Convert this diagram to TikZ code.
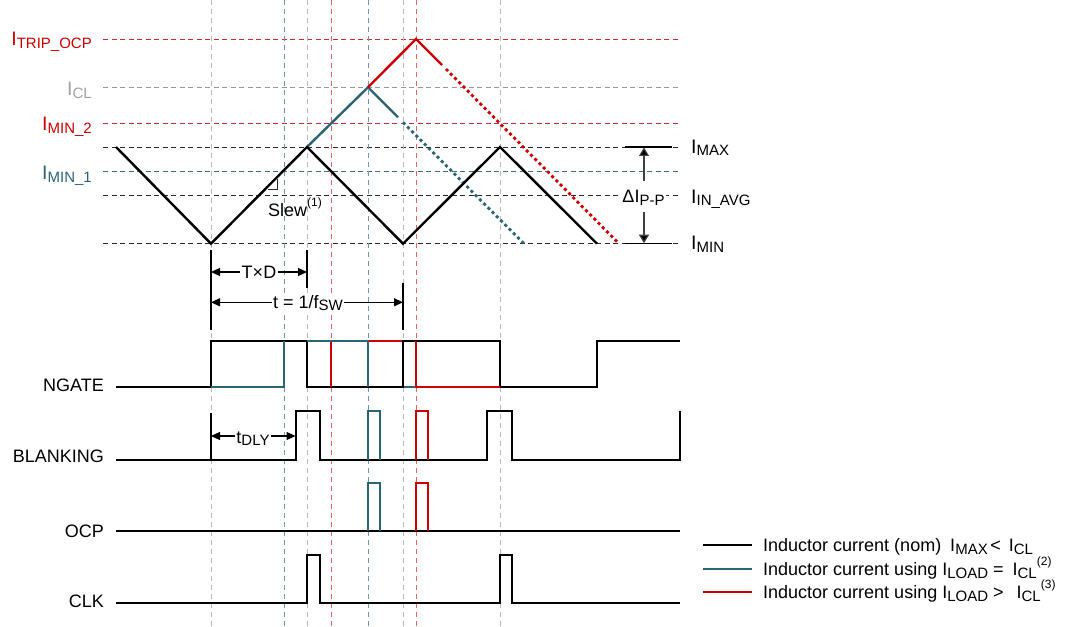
\documentclass[tikz,border=0pt]{standalone}
\usepackage{fontspec}
\setmainfont{Liberation Sans}
\usetikzlibrary{arrows.meta}
\definecolor{tired}{RGB}{204,0,0}
\definecolor{titeal}{RGB}{43,100,115}
\definecolor{vgray}{RGB}{185,185,185}
\definecolor{vteal}{RGB}{115,150,165}
\definecolor{vred}{RGB}{225,100,100}
\definecolor{hred}{RGB}{200,40,50}
\definecolor{hteal}{RGB}{60,110,125}
\definecolor{hgray}{RGB}{150,150,150}
\definecolor{hblack}{RGB}{40,40,40}
\definecolor{lblgray}{RGB}{160,160,160}
\newcommand{\sbs}[1]{\raisebox{-2.5bp}{\fontsize{15bp}{15bp}\selectfont #1}}
\newcommand{\sps}[1]{\raisebox{10bp}{\fontsize{12bp}{12bp}\selectfont #1}}
\newcommand{\bigf}{\fontsize{19.5bp}{22bp}\selectfont}
\newcommand{\normf}{\fontsize{18bp}{21bp}\selectfont}
\begin{document}
\begin{tikzpicture}[x=1bp,y=-1bp,font=\normf,
  hdash/.style={line width=0.9bp,dash pattern=on 5bp off 3.5bp},
  vdash/.style={line width=1bp,dash pattern=on 5bp off 4bp},
  wave/.style={line width=2.4bp},
  dotw/.style={line width=2.8bp,dash pattern=on 3bp off 3bp},
  sig/.style={line width=2bp},
  bar/.style={line width=1.5bp},
  dimarrow/.style={line width=1.2bp,{Triangle[length=9bp,width=8bp]}-{Triangle[length=9bp,width=8bp]}},
  dimlbl/.style={fill=white,inner sep=1.5bp},
  sigl/.style={anchor=base east,inner sep=0pt},
  ilbl/.style={font=\bigf,inner sep=0pt}]
\useasboundingbox (0,0) rectangle (1075,627);

% horizontal dashed reference levels
\foreach \yy/\cc in {39/hred,87.3/hgray,123.3/hred,147/hblack,171.7/hteal,195.3/hblack,243.7/hblack}
  \draw[hdash,\cc] (103,\yy) -- (680,\yy);
% vertical dashed time markers
\foreach \xx/\cc in {211/vgray,284/vteal,307/vgray,331/vred,368/vteal,403/vgray,416/vred,500/vgray}
  \draw[vdash,\cc] (\xx,0) -- (\xx,627);

% inductor currents
\draw[wave,titeal] (307,147) -- (368,87.3) -- (398,117.3);
\draw[wave,tired] (368,87.3) -- (416,39) -- (442,65);
\draw[dotw,titeal] (403,122.3) -- (524,243.7);
\draw[dotw,tired] (446,69) -- (619,243.7);
\draw[wave] (116,147) -- (211,243.7) -- (307,147) -- (403,243.7) -- (500,147) -- (597,243.7);

% slew marker
\draw[line width=0.8bp,hblack] (268,189) -- (277.7,189) -- (277.7,179.5);
\node[anchor=base west,inner sep=0pt] (slew) at (268,217) {Slew\sps{(1)}};

% level labels
\node[ilbl,anchor=base east,text=tired] (itrip) at (92,46) {I\sbs{TRIP\_OCP}};
\node[ilbl,anchor=base east,text=lblgray] (icl) at (92,96) {I\sbs{CL}};
\node[ilbl,anchor=base east,text=tired] (imin2) at (92,131) {I\sbs{MIN\_2}};
\node[ilbl,anchor=base east,text=titeal] (imin1) at (92,180) {I\sbs{MIN\_1}};
\node[ilbl,anchor=base west] (imax) at (691,153.3) {I\sbs{MAX}};
\node[ilbl,anchor=base west] (iavg) at (691,203.3) {I\sbs{IN\_AVG}};
\node[ilbl,anchor=base west] (imin) at (691,250) {I\sbs{MIN}};

% delta I
\draw[line width=1.3bp] (625,147) -- (672,147);
\draw[line width=1.3bp] (625,243.7) -- (672,243.7);
\node[fill=white,inner sep=1bp,anchor=base] (dI) at (643.5,203) {ΔI\sbs{P-P}};
\coordinate (dIt) at (644,181);
\coordinate (dIb) at (644,212);
\coordinate (dImax) at (644,147.5);
\coordinate (dImin) at (644,243.2);
\draw[line width=1.2bp,black!75,-{Triangle[length=8.5bp,width=10bp,fill=black]}] (dIt) -- (dImax);
\draw[line width=1.2bp,black!75,-{Triangle[length=8.5bp,width=10bp,fill=black]}] (dIb) -- (dImin);

% timing dimension bars
\draw[bar] (211,250) -- (211,330);
\draw[bar] (307,250) -- (307,288);
\draw[bar] (403,283) -- (403,330);
\draw[bar] (211,413) -- (211,460);

\coordinate (tdA) at (211,272);
\coordinate (tdB) at (307,272);
\draw[dimarrow] (tdA) -- (tdB);
\node[dimlbl] (tdl) at (259,272) {T×D};

\coordinate (tsA) at (211,302.3);
\coordinate (tsB) at (403,302.3);
\draw[dimarrow] (tsA) -- (tsB);
\node[dimlbl,anchor=base] (tsl) at (308,308.5) {t = 1/f\sbs{SW}};

\coordinate (tyA) at (211,436);
\coordinate (tyB) at (295.5,436);
\draw[dimarrow] (tyA) -- (tyB);
\node[dimlbl,anchor=base] (tyl) at (253,443) {t\sbs{DLY}};

% NGATE
\node[sigl] (ngate) at (104,391) {NGATE};
\draw[sig] (116,387) -- (211,387) -- (211,341) -- (307,341) -- (307,387) -- (403,387) -- (403,341) -- (500,341) -- (500,387) -- (597,387) -- (597,341) -- (680,341);
\draw[sig,titeal] (211,387) -- (284,387) -- (284,341);
\draw[sig,tired] (331,387) -- (331,341);
\draw[sig,titeal] (307,341) -- (368,341) -- (368,387);
\draw[sig,titeal] (404,387) -- (416,387);
\draw[sig,tired] (369,341) -- (402,341);
\draw[sig,tired] (416,341) -- (416,387) -- (500,387);

% BLANKING
\node[sigl] (blank) at (104,462) {BLANKING};
\draw[sig] (116,460) -- (296,460) -- (296,411) -- (320,411) -- (320,460) -- (487,460) -- (487,411) -- (512,411) -- (512,460) -- (680,460) -- (680,411);
\draw[sig,titeal] (368,460) -- (368,411) -- (380,411) -- (380,460);
\draw[sig,tired] (416,460) -- (416,411) -- (428,411) -- (428,460);

% OCP
\node[sigl] (ocp) at (104,537) {OCP};
\draw[sig] (116,531) -- (680,531);
\draw[sig,titeal] (368,531) -- (368,483) -- (380,483) -- (380,531);
\draw[sig,tired] (416,531) -- (416,483) -- (428,483) -- (428,531);

% CLK
\node[sigl] (clk) at (104,607) {CLK};
\draw[sig] (116,603) -- (307,603) -- (307,555) -- (320,555) -- (320,603) -- (500,603) -- (500,555) -- (512,555) -- (512,603) -- (680,603);

% legend
\draw[sig] (703,545) -- (752,545);
\draw[sig,titeal] (703,569) -- (752,569);
\draw[sig,tired] (703,592) -- (752,592);
\node[anchor=base west,inner sep=0pt] (lg1) at (763,551.5) {Inductor current (nom)\hspace{9bp}I\sbs{MAX}\hspace{2.5bp}<\hspace{8bp}I\sbs{CL}};
\node[anchor=base west,inner sep=0pt] (lg2) at (763,575.5) {Inductor current using I\sbs{LOAD} =\hspace{9bp}I\sbs{CL}\sps{(2)}};
\node[anchor=base west,inner sep=0pt] (lg3) at (763,598.5) {Inductor current using I\sbs{LOAD} >\hspace{13bp}I\sbs{CL}\sps{(3)}};
\end{tikzpicture}
\end{document}
